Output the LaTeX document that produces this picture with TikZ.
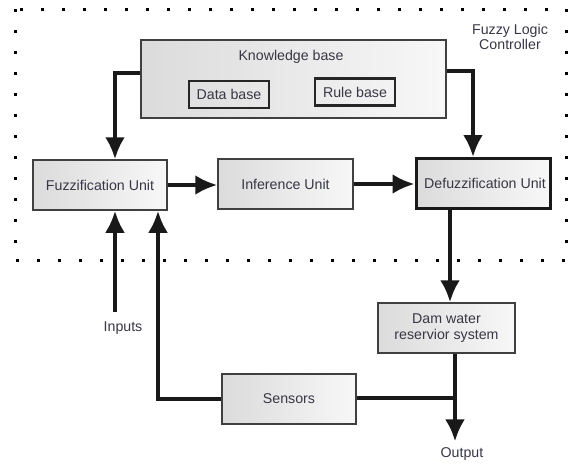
\documentclass[tikz,border=0pt]{standalone}
\usepackage{fontspec}
\setmainfont{Liberation Sans}
\usetikzlibrary{arrows.meta}
\definecolor{labelgray}{RGB}{55,55,70}

\begin{document}
\begin{tikzpicture}[x=1pt,y=-1pt,
		unit_style/.style={rectangle,draw=black!75,line width=1.5pt,left color=black!14,right color=black!3,
			minimum width=134pt,minimum height=50pt,inner sep=0pt,text=labelgray,align=center},
		inner_style/.style={rectangle,draw=black!85,line width=1.8pt,minimum width=80pt,minimum height=27pt,
			inner sep=0pt,text=labelgray},
		label_style/.style={text=labelgray,align=center,inner sep=0pt},
		edge_style/.style={draw=black!90,line width=4pt,-{Latex[length=22pt,width=20pt]}},
		line_style/.style={draw=black!90,line width=4pt},
		font=\fontsize{14.2}{15.5}\selectfont]

		\useasboundingbox (0,0) rectangle (569,463);

		% controller frame
		\draw[line width=3pt,dash pattern=on 3pt off 18pt] (15,9) rectangle (566,260);
		\node[label_style] (flc) at (510,37) {Fuzzy Logic\\Controller};

		\node[unit_style,minimum width=305pt,minimum height=78pt] (kb) at (293.5,79) {};
		\node[label_style] (kbtext) at (291,57) {Knowledge base};
		\node[inner_style] (data) at (229,94.5) {Data base};
		\node[inner_style,line width=2.2pt] (rule) at (355,92) {Rule base};

		\node[unit_style] (fuzz) at (100,185) {Fuzzification Unit};
		\node[unit_style,minimum width=135pt] (inf) at (285.5,184) {Inference Unit};
		\node[unit_style,draw=black!90,line width=3pt] (defuzz) at (483,183.5) {\hspace*{4pt}Defuzzification Unit};
		\node[unit_style,minimum width=137pt] (dam) at (446.5,328) {Dam water\\reservior system};
		\node[unit_style] (sensors) at (289,399) {Sensors};

		\node[label_style] (inputs) at (123,328) {Inputs};
		\node[label_style] (output) at (462,454) {Output};
		\coordinate (inp) at (115,312);
		\coordinate (tap) at (455,398);

		\draw[edge_style]  ([yshift=6pt]kb.west) -| ([xshift=15pt]fuzz.north);
		\draw[edge_style]  ([yshift=8pt]kb.east) -| ([xshift=-10pt]defuzz.north);
		\draw[edge_style]  (fuzz.east) -- (fuzz.east -| inf.west);
		\draw[edge_style]  (inf.east) -- (inf.east -| defuzz.west);
		\draw[edge_style]  ([xshift=-33pt]defuzz.south) -- ([xshift=-33pt]defuzz.south |- dam.north);
		\draw[edge_style]  (dam.south -| tap) -- ([yshift=6pt]output.north -| tap);
		\draw[line_style]  (sensors.east |- tap) -- (tap);
		\draw[edge_style]  (sensors.west) -| ([xshift=58pt]fuzz.south);
		\draw[edge_style]  (inp) -- (inp |- fuzz.south);

		\end{tikzpicture}
\end{document}
